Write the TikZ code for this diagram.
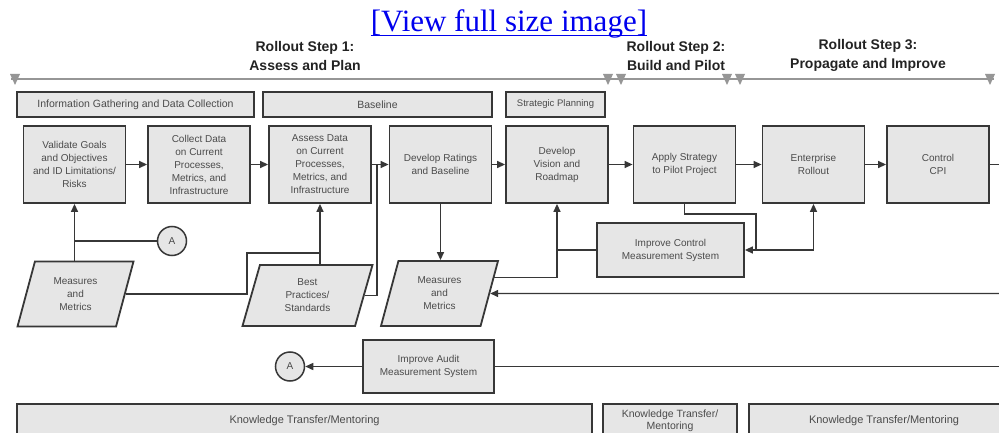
\documentclass[tikz,border=0pt]{standalone}
\usepackage{fontspec}
\setmainfont{Liberation Sans}
\newfontfamily\linkfont{Liberation Serif}
\usepackage{tikz}
\usetikzlibrary{arrows.meta,shapes.geometric}

\definecolor{boxfill}{RGB}{230,230,230}
\definecolor{boxline}{RGB}{55,55,55}
\definecolor{boxtext}{RGB}{75,75,75}
\definecolor{headtext}{RGB}{35,35,35}
\definecolor{railgray}{RGB}{150,150,150}
\definecolor{linkblue}{RGB}{0,0,238}

\begin{document}
\begin{tikzpicture}[x=1pt,y=-1pt,
  stepbox/.style={draw=boxline,fill=boxfill,line width=1.8pt,minimum width=102pt,minimum height=77pt,inner sep=2pt,align=center,text=boxtext,font=\fontsize{10}{13}\selectfont},
  secbox/.style={draw=boxline,fill=boxfill,line width=1.8pt,minimum height=25pt,inner sep=1pt,align=center,text=boxtext,font=\fontsize{10.5}{12}\selectfont},
  databox/.style={trapezium,trapezium left angle=63.5,trapezium right angle=116.5,trapezium stretches body,draw=boxline,fill=boxfill,line width=1.8pt,minimum height=65pt,inner sep=1pt,align=center,text=boxtext,font=\fontsize{10}{13}\selectfont},
  refA/.style={circle,draw=boxline,fill=boxfill,line width=1.5pt,minimum size=29pt,inner sep=0pt,text=boxtext,font=\fontsize{10}{11}\selectfont},
  flow/.style={draw=boxline,line width=1.4pt,-{Triangle[length=8pt,width=7pt]}},
  wire/.style={draw=boxline,line width=1.4pt},
  rail/.style={draw=railgray,line width=1.8pt},
  hdr/.style={align=center,text=headtext,font=\bfseries\fontsize{14}{19}\selectfont}]
\path[use as bounding box] (0,0) rectangle (999,433);
\clip (0,0) rectangle (999,433);
\fill[white] (0,0) rectangle (999,433);

% link line above the figure
\node[anchor=base,inner sep=0pt,text=linkblue,font=\linkfont\fontsize{31}{34}\selectfont] (viewlink) at (509,32) {[View full size image]};
\draw[linkblue,line width=1.3pt] ([yshift=-3.5pt]viewlink.base west) -- ([yshift=-3.5pt]viewlink.base east);

% rollout steps
\node[hdr] (hdrStep1) at (305,55.5) {Rollout Step 1:\\Assess and Plan};
\node[hdr] (hdrStep2) at (676,55.5) {Rollout Step 2:\\Build and Pilot};
\node[hdr] (hdrStep3) at (868,55.5) {Rollout Step 3:\\Propagate and Improve};
\draw[rail] (11,79) -- (994,79);
\path[fill=railgray] (10,74) -- (20,74) -- (15,85) -- cycle;
\path[fill=railgray] (603,74) -- (613,74) -- (608,85) -- cycle;
\path[fill=railgray] (616,74) -- (626,74) -- (621,85) -- cycle;
\path[fill=railgray] (722,74) -- (732,74) -- (727,85) -- cycle;
\path[fill=railgray] (735,74) -- (745,74) -- (740,85) -- cycle;
\path[fill=railgray] (985,74) -- (995,74) -- (990,85) -- cycle;

% phase bars
\node[secbox,minimum width=237pt] (secInfo) at (135.5,104.5) {Information Gathering and Data Collection};
\node[secbox,minimum width=229pt] (secBase) at (377.5,104.5) {Baseline};
\node[secbox,minimum width=99pt,font=\fontsize{9.5}{12}\selectfont] (secPlan) at (555.5,104.5) {Strategic Planning};

% main row
\node[stepbox] (validate) at (74.5,164.5) {Validate Goals\\and Objectives\\and ID Limitations/\\Risks};
\node[stepbox] (collect) at (199,164.5) {Collect Data\\on Current\\Processes,\\Metrics, and\\Infrastructure};
\node[stepbox] (assess) at (320,164.5) {Assess Data\\on Current\\Processes,\\Metrics, and\\Infrastructure};
\node[stepbox] (ratings) at (440.5,164.5) {Develop Ratings\\and Baseline};
\node[stepbox] (vision) at (557,164.5) {Develop\\Vision and\\Roadmap};
\node[stepbox] (pilot) at (684.5,164.5) {Apply Strategy\\to Pilot Project};
\node[stepbox] (rollout) at (813.5,164.5) {Enterprise\\Rollout};
\node[stepbox] (cpi) at (938,164.5) {Control\\CPI};

% inputs
\node[databox,minimum width=116pt] (metricsA) at (75.5,294) {Measures\\and\\Metrics};
\node[databox,minimum width=130pt,minimum height=61pt] (practices) at (307.5,295.5) {Best\\Practices/\\Standards};
\node[databox,minimum width=117pt] (metricsB) at (439.5,293.5) {Measures\\and\\Metrics};
\node[refA] (refTop) at (172,241) {A};
\node[stepbox,minimum width=147pt,minimum height=54pt] (ctlSys) at (670.5,250) {Improve Control\\Measurement System};
\node[stepbox,minimum width=131pt,minimum height=53pt] (auditSys) at (428.5,366.5) {Improve Audit\\Measurement System};
\node[refA] (refBottom) at (290,366.5) {A};

% knowledge transfer bars
\node[secbox,minimum width=575pt,minimum height=34pt,font=\fontsize{11}{13}\selectfont] (ktStep1) at (304.5,421) {Knowledge Transfer/Mentoring};
\node[secbox,minimum width=134pt,minimum height=34pt,font=\fontsize{10.5}{12.5}\selectfont] (ktStep2) at (670,421) {Knowledge Transfer/\\Mentoring};
\node[secbox,minimum width=270pt,minimum height=34pt,font=\fontsize{11}{13}\selectfont] (ktStep3) at (884,421) {Knowledge Transfer/Mentoring};

% junctions and loose ends
\coordinate (joinAssess) at (377,164.5);
\coordinate (joinPractice) at (320,253);
\coordinate (joinCtl) at (756,250);
\coordinate (offCpi) at (999,164.5);
\coordinate (inMetrics) at (999,293.5);
\coordinate (inAudit) at (999,366.5);

% connectors
\draw[flow] (validate) -- (collect);
\draw[flow] (collect) -- (assess);
\draw[flow] (assess) -- (ratings);
\draw[flow] (ratings) -- (vision);
\draw[flow] (vision) -- (pilot);
\draw[flow] (pilot) -- (rollout);
\draw[flow] (rollout) -- (cpi);
\draw[wire] (cpi) -- (offCpi);
\draw[flow] (validate.south |- metricsA.north) -- (validate.south);
\draw[wire] (validate.south |- refTop) -- (refTop);
\draw[flow] (assess.south |- practices.north) -- (assess.south);
\draw[wire] (metricsA.east) -| (247,253) -- (joinPractice);
\draw[wire] (practices.east) -| (joinAssess);
\draw[flow] (ratings.south) -- (ratings.south |- metricsB.north);
\draw[flow] (metricsB.16) -| (vision.south);
\draw[wire] (ctlSys.west) -- (vision.south |- ctlSys.west);
\draw[flow] (pilot.south) -- ++(0,10) -| (joinCtl) -- (ctlSys.east);
\draw[flow] (joinCtl) -| (rollout.south);
\draw[flow] (inMetrics) -- (metricsB.east);
\draw[flow] (auditSys) -- (refBottom);
\draw[wire] (inAudit) -- (auditSys);
\end{tikzpicture}
\end{document}
